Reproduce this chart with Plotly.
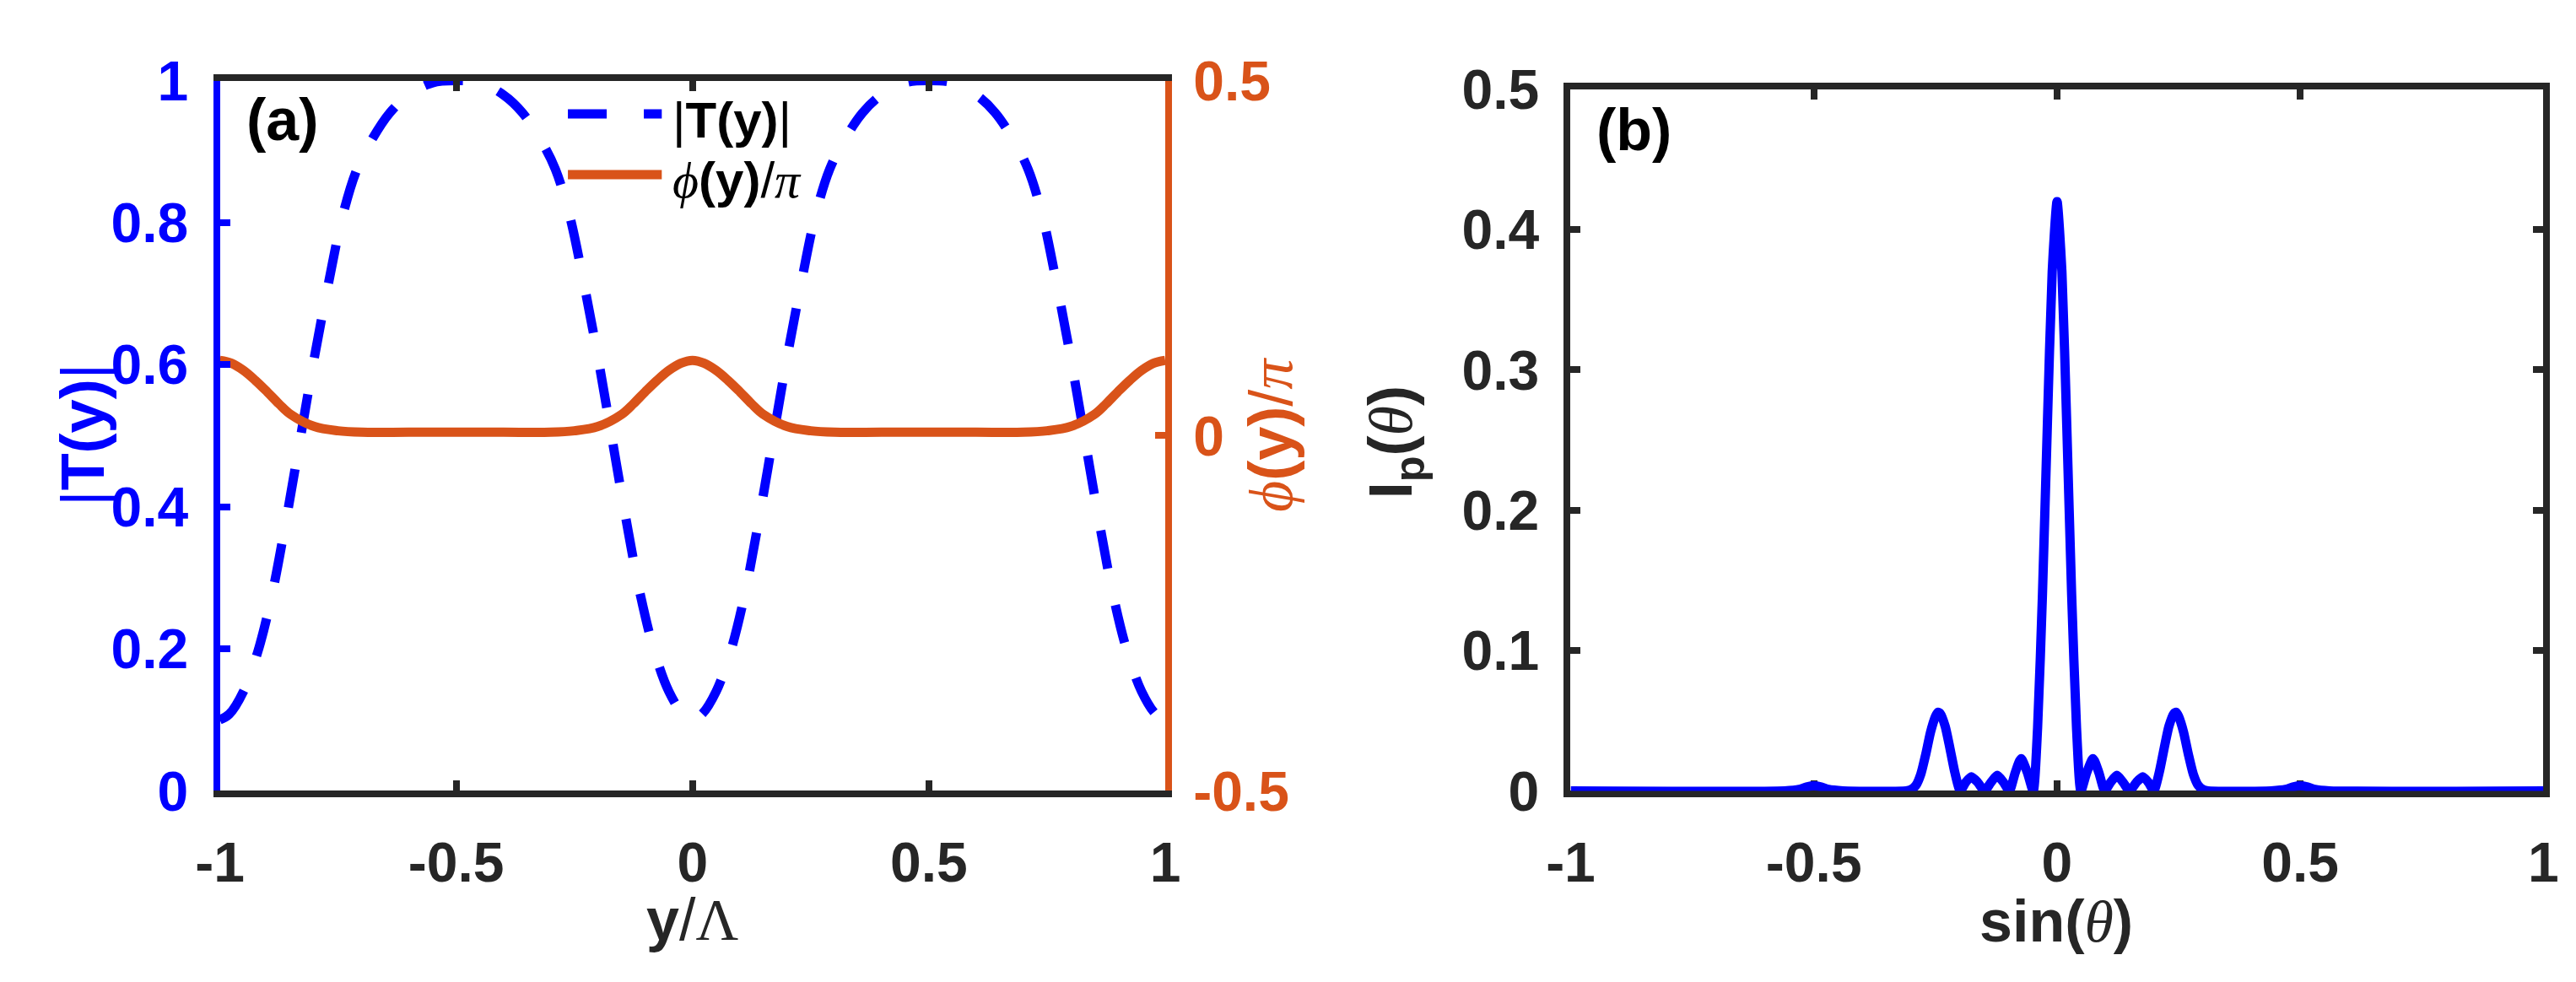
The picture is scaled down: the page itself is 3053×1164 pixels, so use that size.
import plotly.graph_objects as go

W, H = 3053, 1164
BLUE = "#0000ff"
ORANGE = "#d95319"
AX = "#262626"
SANS = "Liberation Sans"
SERIF = "Liberation Serif"

# panel (a): |T(y)| (left axis) and phi(y)/pi (right axis) vs y/Lambda
Y_POS = [-1.0, -0.98, -0.95, -0.92, -0.89, -0.86, -0.83, -0.80, -0.77, -0.74, -0.71, -0.68, -0.64, -0.60, -0.55,
         -0.50, -0.45, -0.40, -0.36, -0.32, -0.29, -0.26, -0.23, -0.20, -0.17, -0.14, -0.11, -0.08, -0.05, -0.02,
         0.0, 0.02, 0.05, 0.08, 0.11, 0.14, 0.17, 0.20, 0.23, 0.26, 0.29, 0.32, 0.36, 0.40, 0.45,
         0.50, 0.55, 0.60, 0.64, 0.68, 0.71, 0.74, 0.77, 0.80, 0.83, 0.86, 0.89, 0.92, 0.95, 0.98, 1.0]
T_ABS = [0.100, 0.108, 0.140, 0.195, 0.275, 0.380, 0.495, 0.610, 0.715, 0.810, 0.875, 0.915, 0.955, 0.980, 0.997,
         1.000, 0.997, 0.980, 0.955, 0.915, 0.875, 0.810, 0.715, 0.610, 0.495, 0.380, 0.275, 0.195, 0.140, 0.108,
         0.100, 0.108, 0.140, 0.195, 0.275, 0.380, 0.495, 0.610, 0.715, 0.810, 0.875, 0.915, 0.955, 0.980, 0.997,
         1.000, 0.997, 0.980, 0.955, 0.915, 0.875, 0.810, 0.715, 0.610, 0.495, 0.380, 0.275, 0.195, 0.140, 0.108, 0.100]

PHI_X = [-1.0, -0.975, -0.95, -0.925, -0.9, -0.875, -0.85, -0.8, -0.75, -0.7, -0.6, -0.5, -0.4, -0.3,
         -0.25, -0.2, -0.15, -0.125, -0.1, -0.075, -0.05, -0.025, 0.0, 0.025, 0.05, 0.075, 0.1, 0.125, 0.15,
         0.2, 0.25, 0.3, 0.4, 0.5, 0.6, 0.7, 0.75, 0.8, 0.85, 0.875, 0.9, 0.925, 0.95, 0.975, 1.0]
PHI_VAL = [0.106, 0.102, 0.092, 0.078, 0.062, 0.045, 0.030, 0.013, 0.007, 0.005, 0.005, 0.005, 0.005, 0.005,
           0.007, 0.013, 0.030, 0.045, 0.062, 0.078, 0.092, 0.102, 0.106, 0.102, 0.092, 0.078, 0.062, 0.045, 0.030,
           0.013, 0.007, 0.005, 0.005, 0.005, 0.005, 0.005, 0.007, 0.013, 0.030, 0.045, 0.062, 0.078, 0.092, 0.102, 0.106]

# panel (b): I_p(theta) vs sin(theta)
SIN_T = [-1.0, -0.56, -0.53, -0.515, -0.5, -0.485, -0.47, -0.44, -0.31, -0.30, -0.29, -0.28, -0.27, -0.26,
         -0.25, -0.245, -0.24, -0.23, -0.22, -0.21, -0.199, -0.188, -0.176, -0.163, -0.149, -0.136, -0.123,
         -0.110, -0.098, -0.086, -0.074, -0.061, -0.049, -0.04, -0.03, -0.02, -0.01, 0.0, 0.01, 0.02, 0.03,
         0.04, 0.049, 0.061, 0.074, 0.086, 0.098, 0.110, 0.123, 0.136, 0.149, 0.163, 0.176, 0.188, 0.199,
         0.21, 0.22, 0.23, 0.24, 0.245, 0.25, 0.26, 0.27, 0.28, 0.29, 0.30, 0.31, 0.44, 0.47, 0.485, 0.5,
         0.515, 0.53, 0.56, 1.0]
I_P = [0.0, 0.0, 0.001, 0.0028, 0.0036, 0.0028, 0.001, 0.0, 0.0, 0.001, 0.004, 0.012, 0.026, 0.042,
       0.053, 0.056, 0.055, 0.046, 0.030, 0.013, 0.0, 0.006, 0.010, 0.006, 0.0, 0.006, 0.011,
       0.006, 0.0, 0.013, 0.023, 0.013, 0.0, 0.045, 0.14, 0.26, 0.37, 0.42, 0.37, 0.26, 0.14,
       0.045, 0.0, 0.013, 0.023, 0.013, 0.0, 0.006, 0.011, 0.006, 0.0, 0.006, 0.010, 0.006, 0.0,
       0.013, 0.030, 0.046, 0.055, 0.056, 0.053, 0.042, 0.026, 0.012, 0.004, 0.001, 0.0, 0.0, 0.001, 0.0028, 0.0036,
       0.0028, 0.001, 0.0, 0.0]

X_TICKS = [-1, -0.5, 0, 0.5, 1]
X_TICKTEXT = ["-1", "-0.5", "0", "0.5", "1"]
TA_TICKS = [0, 0.2, 0.4, 0.6, 0.8, 1]
TA_TICKTEXT = ["0", "0.2", "0.4", "0.6", "0.8", "1"]
PHI_TICKS = [-0.5, 0, 0.5]
PHI_TICKTEXT = ["-0.5", "0", "0.5"]
IP_TICKS = [0, 0.1, 0.2, 0.3, 0.4, 0.5]
IP_TICKTEXT = ["0", "0.1", "0.2", "0.3", "0.4", "0.5"]


def px(x):
    return x / W


def py(y):
    return 1 - y / H


def serif(t, italic=True):
    style = "font-style:italic;" if italic else ""
    return f'<span style="font-family:{SERIF};font-weight:normal;{style}">{t}</span>'


PHI = serif("\u03d5")
PI = serif("\u03c0")
THETA = serif("\u03b8")

fig = go.Figure()
fig.add_trace(go.Scatter(x=Y_POS, y=T_ABS, mode="lines", xaxis="x", yaxis="y", cliponaxis=False,
                         line=dict(color=BLUE, width=11, dash="46px,44px", shape="spline")))
fig.add_trace(go.Scatter(x=PHI_X, y=PHI_VAL, mode="lines", xaxis="x", yaxis="y2", cliponaxis=False,
                         line=dict(color=ORANGE, width=11, shape="spline")))
fig.add_trace(go.Scatter(x=SIN_T, y=I_P, mode="lines", xaxis="x2", yaxis="y3", cliponaxis=False,
                         line=dict(color=BLUE, width=11, shape="spline", smoothing=0.6)))

tick_font = dict(family=SANS, size=66, color=AX, weight="bold")
common = dict(showgrid=False, zeroline=False, showline=True, linewidth=8, ticks="inside",
              ticklen=12, tickwidth=8)

fig.update_layout(
    width=W, height=H, margin=dict(l=0, r=0, t=0, b=0),
    paper_bgcolor="white", plot_bgcolor="white", showlegend=False,
    xaxis=dict(domain=[px(227), px(1365)], anchor="y", range=[-1, 1], tickvals=X_TICKS, ticktext=X_TICKTEXT,
               linecolor=AX, tickcolor=AX, mirror="ticks", tickfont=tick_font, ticklabelstandoff=20, **common),
    yaxis=dict(domain=[py(953), py(54)], anchor="x", range=[0, 1], tickvals=TA_TICKS, ticktext=TA_TICKTEXT,
               linecolor=BLUE, tickcolor=BLUE, tickfont=dict(tick_font, color=BLUE), ticklabelstandoff=16,
               **common),
    yaxis2=dict(overlaying="y", side="right", anchor="x", range=[-0.5, 0.5], tickvals=PHI_TICKS,
                ticktext=PHI_TICKTEXT, linecolor=ORANGE, tickcolor=ORANGE,
                tickfont=dict(tick_font, color=ORANGE), ticklabelstandoff=12, **common),
    xaxis2=dict(domain=[px(1853), px(3024)], anchor="y3", range=[-1, 1], tickvals=X_TICKS, ticktext=X_TICKTEXT,
                linecolor=AX, tickcolor=AX, mirror="ticks", tickfont=tick_font, ticklabelstandoff=20,
                layer="below traces", **common),
    yaxis3=dict(domain=[py(953), py(65)], anchor="x2", range=[0, 0.5], tickvals=IP_TICKS, ticktext=IP_TICKTEXT,
                linecolor=AX, tickcolor=AX, mirror="ticks", tickfont=tick_font, ticklabelstandoff=16,
                layer="below traces", **common),
)

# legend of panel (a), drawn by hand to get MATLAB-length samples
fig.add_shape(type="line", xref="paper", yref="paper", x0=px(646), x1=px(759), y0=py(96), y1=py(96),
              line=dict(color=BLUE, width=11, dash="46px,44px"))
fig.add_shape(type="line", xref="paper", yref="paper", x0=px(646), x1=px(759), y0=py(173), y1=py(173),
              line=dict(color=ORANGE, width=11))

notes = [
    ("<b>(a)</b>", 257, 104, "left", 0, 70, "black"),
    ("<b>(b)</b>", 1882, 116, "left", 0, 70, "black"),
    ("|<b>T(y)</b>|", 770, 104, "left", 0, 60, "black"),
    (PHI + "<b>(y)</b>/" + PI, 770, 180, "left", 0, 60, "black"),
    ("<b>y</b>/" + serif("\u039b", italic=False), 796, 1116, "center", 0, 70, AX),
    ("<b>sin(</b>" + THETA + "<b>)</b>", 2438, 1118, "center", 0, 70, AX),
    ("|<b>T(y)</b>|", 62, 503, "center", -90, 72, BLUE),
    (PHI + "<b>(y)</b>/" + PI, 1492, 503, "center", -90, 72, ORANGE),
    ("<b>I<sub>p</sub>(</b>" + THETA + "<b>)</b>", 1642, 512, "center", -90, 72, AX),
]
for text, x, y, xa, ang, size, color in notes:
    fig.add_annotation(text=text, x=px(x), y=py(y), xref="paper", yref="paper", xanchor=xa, yanchor="middle",
                       textangle=ang, showarrow=False, font=dict(family=SANS, size=size, color=color))

fig.write_html("out.html")
